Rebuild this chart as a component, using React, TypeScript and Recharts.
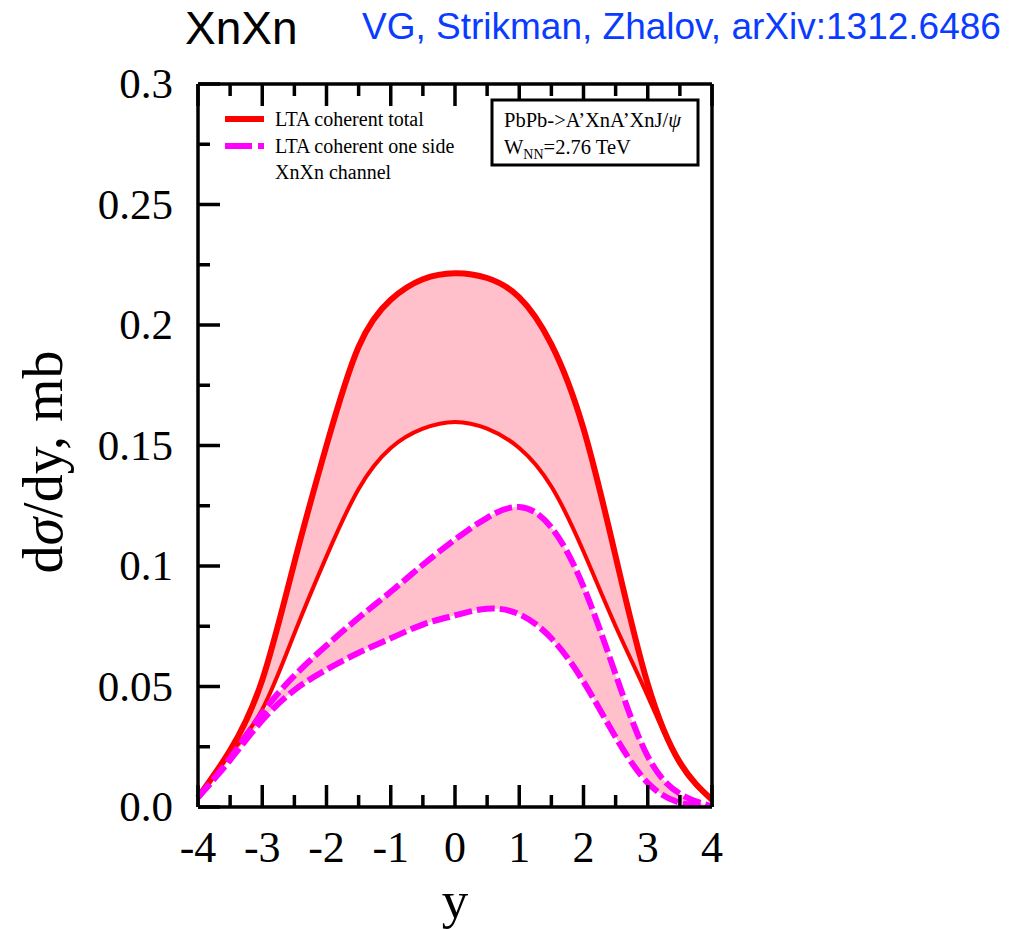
import { ComposedChart, Line, Area, XAxis, YAxis } from "recharts";

// rapidity y
const rapidity = [-4, -3.5, -3, -2.5, -2, -1.5, -1, -0.5, 0, 0.5, 1, 1.5, 2, 2.5, 3, 3.5, 4];

// LTA coherent total (upper / lower edge of band), mb
const totalUpper = [0.004, 0.0235, 0.0527, 0.1015, 0.15, 0.191, 0.2105, 0.219, 0.2215, 0.2195, 0.2115, 0.192, 0.157, 0.104, 0.051, 0.0185, 0.003];
const totalLower = [0.004, 0.022, 0.0405, 0.072, 0.104, 0.132, 0.149, 0.157, 0.1598, 0.157, 0.149, 0.133, 0.106, 0.075, 0.046, 0.0178, 0.003];

// LTA coherent one side, XnXn channel
const oneSideUpper = [0.004, 0.0203, 0.039, 0.0545, 0.067, 0.0785, 0.0893, 0.1005, 0.111, 0.12, 0.1245, 0.116, 0.0914, 0.055, 0.021, 0.0055, 0.0003];
const oneSideLower = [0.004, 0.0195, 0.036, 0.0485, 0.057, 0.064, 0.07, 0.0757, 0.0795, 0.0823, 0.08, 0.07, 0.052, 0.029, 0.01, 0.0018, 0.0];

const xTicks = [-4, -3.5, -3, -2.5, -2, -1.5, -1, -0.5, 0, 0.5, 1, 1.5, 2, 2.5, 3, 3.5, 4];
const yTicks = [0, 0.025, 0.05, 0.075, 0.1, 0.125, 0.15, 0.175, 0.2, 0.225, 0.25, 0.275, 0.3];
const yTickLabels = ["0.0", "", "0.05", "", "0.1", "", "0.15", "", "0.2", "", "0.25", "", "0.3"];

const data = rapidity.map((y, i) => ({
  y,
  totHi: totalUpper[i],
  totLo: totalLower[i],
  oneHi: oneSideUpper[i],
  oneLo: oneSideLower[i],
}));

const SERIF = "'Liberation Serif', 'Times New Roman', serif";
const SANS = "'Liberation Sans', Arial, sans-serif";
const RED = "#ff0000";
const MAGENTA = "#ff00ff";
const PINK = "#ffc0cb";

const MAJOR = 22;
const MINOR = 12;

function BottomTick(props: any) {
  const { x, y, payload } = props;
  const major = Number.isInteger(payload.value);
  return (
    <g>
      <line x1={x} x2={x} y1={y} y2={y - (major ? MAJOR : MINOR)} stroke="#000" strokeWidth={3.5} />
      {major && (
        <text x={x} y={y + 55} textAnchor="middle" fontFamily={SERIF} fontSize={44} fill="#000">
          {payload.value}
        </text>
      )}
    </g>
  );
}

function TopTick(props: any) {
  const { x, y, payload } = props;
  const major = Number.isInteger(payload.value);
  return <line x1={x} x2={x} y1={y} y2={y + (major ? MAJOR : MINOR)} stroke="#000" strokeWidth={3.5} />;
}

function LeftTick(props: any) {
  const { x, y, index } = props;
  const major = index % 2 === 0;
  return (
    <g>
      <line x1={x} x2={x + (major ? MAJOR : MINOR)} y1={y} y2={y} stroke="#000" strokeWidth={3.5} />
      {major && (
        <text x={x - 25} y={y + 14} textAnchor="end" fontFamily={SERIF} fontSize={43} fill="#000">
          {yTickLabels[index]}
        </text>
      )}
    </g>
  );
}

function RightTick(props: any) {
  const { x, y, index } = props;
  const major = index % 2 === 0;
  return <line x1={x} x2={x - (major ? MAJOR : MINOR)} y1={y} y2={y} stroke="#000" strokeWidth={3.5} />;
}

const axisLine = { stroke: "#000", strokeWidth: 3.5 };

export default function App() {
  return (
    <div style={{ position: "absolute", left: 0, top: 0, width: 1021, height: 929, background: "#fff" }}>
      <ComposedChart
        width={1021}
        height={929}
        data={data}
        margin={{ top: 83, right: 308, bottom: 121, left: 197 }}
      >
        <XAxis
          dataKey="y"
          type="number"
          domain={[-4, 4]}
          ticks={xTicks}
          interval={0}
          height={1}
          tickSize={0}
          tickMargin={0}
          tick={BottomTick}
          axisLine={axisLine}
        />
        <XAxis
          xAxisId="top"
          orientation="top"
          dataKey="y"
          type="number"
          domain={[-4, 4]}
          ticks={xTicks}
          interval={0}
          height={1}
          tickSize={0}
          tickMargin={0}
          tick={TopTick}
          axisLine={axisLine}
        />
        <YAxis
          type="number"
          domain={[0, 0.3]}
          ticks={yTicks}
          interval={0}
          width={1}
          tickSize={0}
          tickMargin={0}
          tick={LeftTick}
          allowDataOverflow
          axisLine={axisLine}
        />
        <YAxis
          yAxisId="right"
          orientation="right"
          type="number"
          domain={[0, 0.3]}
          ticks={yTicks}
          interval={0}
          width={1}
          tickSize={0}
          tickMargin={0}
          tick={RightTick}
          axisLine={axisLine}
        />

        <Area
          type="natural"
          dataKey={(d: any) => [d.totLo, d.totHi]}
          fill={PINK}
          fillOpacity={1}
          stroke="none"
          isAnimationActive={false}
        />
        <Area
          type="natural"
          dataKey={(d: any) => [d.oneLo, d.oneHi]}
          fill={PINK}
          fillOpacity={1}
          stroke="none"
          isAnimationActive={false}
        />
        <Line type="natural" dataKey="totLo" stroke={RED} strokeWidth={4} dot={false} isAnimationActive={false} />
        <Line type="natural" dataKey="totHi" stroke={RED} strokeWidth={6} dot={false} isAnimationActive={false} />
        <Line
          type="natural"
          dataKey="oneHi"
          stroke={MAGENTA}
          strokeWidth={6}
          strokeDasharray="18 5"
          dot={false}
          isAnimationActive={false}
        />
        <Line
          type="natural"
          dataKey="oneLo"
          stroke={MAGENTA}
          strokeWidth={6}
          strokeDasharray="18 5"
          dot={false}
          isAnimationActive={false}
        />
      </ComposedChart>

      <svg
        width={1021}
        height={929}
        style={{ position: "absolute", left: 0, top: 0, pointerEvents: "none" }}
      >
        <text x={185} y={44} fontFamily={SANS} fontSize={46} fill="#000">
          XnXn
        </text>
        <text x={362} y={39} fontFamily={SANS} fontSize={37} fill="#0a3cff">
          VG, Strikman, Zhalov, arXiv:1312.6486
        </text>

        {/* legend */}
        <line x1={225} x2={264} y1={119} y2={119} stroke={RED} strokeWidth={6} />
        <line x1={225} x2={264} y1={146} y2={146} stroke={MAGENTA} strokeWidth={6} strokeDasharray="27 6" />
        <text x={275} y={126} fontFamily={SERIF} fontSize={20} fill="#000">
          LTA coherent total
        </text>
        <text x={275} y={153} fontFamily={SERIF} fontSize={20} fill="#000">
          LTA coherent one side
        </text>
        <text x={275} y={179} fontFamily={SERIF} fontSize={20} fill="#000">
          XnXn channel
        </text>

        {/* info box */}
        <rect x={492} y={100} width={206} height={65} fill="#fff" stroke="#000" strokeWidth={3} />
        <text x={504} y={127} fontFamily={SERIF} fontSize={20.5} fill="#000">
          PbPb-&gt;A’XnA’XnJ/<tspan fontStyle="italic">ψ</tspan>
        </text>
        <text x={504} y={154} fontFamily={SERIF} fontSize={20.5} fill="#000">
          W<tspan fontSize={14} dy={5}>NN</tspan>
          <tspan dy={-5}>=2.76 TeV</tspan>
        </text>

        {/* axis titles */}
        <text x={455} y={918} textAnchor="middle" fontFamily={SERIF} fontSize={53} fill="#000">
          y
        </text>
        <text
          x={0}
          y={0}
          transform="translate(62 462) rotate(-90)"
          textAnchor="middle"
          fontFamily={SERIF}
          fontSize={56}
          fill="#000"
        >
          d<tspan fontStyle="italic">σ</tspan>/dy, mb
        </text>
      </svg>
    </div>
  );
}
